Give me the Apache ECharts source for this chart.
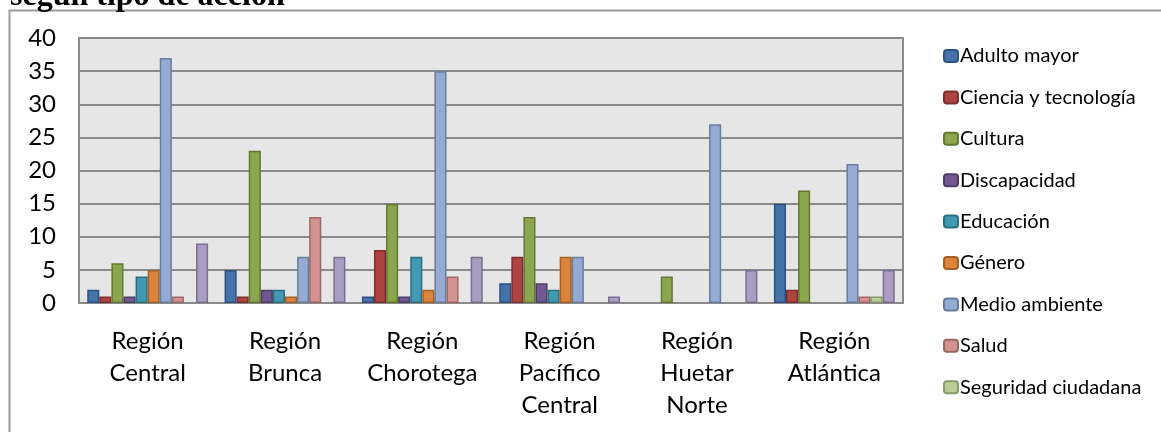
<!DOCTYPE html>
<html>
<head>
<meta charset="utf-8">
<script src="https://cdn.jsdelivr.net/npm/echarts@6/dist/echarts.min.js"></script>
<style>
  html, body { margin: 0; padding: 0; background: #fff; }
  #chart { width: 1161px; height: 432px; }
</style>
</head>
<body>
<div id="chart"></div>
<script>
// regiones (eje X)
const regiones = ['Región\nCentral', 'Región\nBrunca', 'Región\nChorotega', 'Región\nPacífico\nCentral', 'Región\nHuetar\nNorte', 'Región\nAtlántica']

// valores por tipo de acción
const adultoMayor = [2, 5, 1, 3, 0, 15]
const cienciaTecnologia = [1, 1, 8, 7, 0, 2]
const cultura = [6, 23, 15, 13, 4, 17]
const discapacidad = [1, 2, 1, 3, 0, 0]
const educacion = [4, 2, 7, 2, 0, 0]
const genero = [5, 1, 2, 7, 0, 0]
const medioAmbiente = [37, 7, 35, 7, 27, 21]
const salud = [1, 13, 4, 0, 0, 1]
const seguridadCiudadana = [0, 0, 0, 0, 0, 1]
const otros = [9, 7, 7, 1, 5, 5]

const yTicks = ['0', '5', '10', '15', '20', '25', '30', '35', '40']

const serieDefs = [
  { name: 'Adulto mayor', data: adultoMayor, fill: '#4473A9', line: '#2E5181' },
  { name: 'Ciencia y tecnología', data: cienciaTecnologia, fill: '#AC4542', line: '#7E2F2D' },
  { name: 'Cultura', data: cultura, fill: '#8AA64F', line: '#62792F' },
  { name: 'Discapacidad', data: discapacidad, fill: '#71588F', line: '#4E3C68' },
  { name: 'Educación', data: educacion, fill: '#419AB1', line: '#2A7085' },
  { name: 'Género', data: genero, fill: '#DB843D', line: '#A65F22' },
  { name: 'Medio ambiente', data: medioAmbiente, fill: '#95ABD3', line: '#687D9E' },
  { name: 'Salud', data: salud, fill: '#D49392', line: '#9C6866' },
  { name: 'Seguridad ciudadana', data: seguridadCiudadana, fill: '#BACF97', line: '#889B6A' },
  { name: 'Otros', data: otros, fill: '#AA9CC2', line: '#7A6E91' }
]

const FONT = 'Lato, "Open Sans", sans-serif'

const chart = echarts.init(document.getElementById('chart'), null, { renderer: 'canvas' })

const option = {
  backgroundColor: '#ffffff',
  animation: false,
  graphic: [
    // marco exterior
    {
      type: 'rect',
      shape: { x: 9.5, y: 10.5, width: 1200, height: 500 },
      style: { fill: 'none', stroke: '#9a9a9a', lineWidth: 2 },
      z: -10
    },
    // título recortado
    {
      type: 'text',
      left: 10,
      top: -19,
      style: {
        text: 'según tipo de acción',
        font: 'bold 32px "Liberation Serif", "DejaVu Serif", serif',
        fill: '#000'
      }
    }
  ],
  grid: {
    left: 79,
    right: 258,
    top: 38,
    bottom: 129,
    show: true,
    backgroundColor: '#E6E6E6',
    borderColor: '#8a8a8a',
    borderWidth: 2
  },
  legend: {
    orient: 'vertical',
    left: 938,
    top: 41,
    itemWidth: 14,
    itemHeight: 12,
    itemGap: 21.4,
    data: serieDefs.slice(0, 9).map(s => s.name),
    textStyle: {
      fontFamily: FONT,
      fontSize: 20,
      color: '#000',
      padding: [0, 0, 0, -3]
    }
  },
  xAxis: {
    type: 'category',
    data: regiones,
    axisLine: { lineStyle: { color: '#8a8a8a', width: 2 } },
    axisTick: { show: false },
    axisLabel: {
      margin: 22,
      fontFamily: FONT,
      fontSize: 24,
      lineHeight: 32,
      color: '#000',
      interval: 0,
      verticalAlign: 'top'
    }
  },
  yAxis: {
    type: 'value',
    min: 0,
    max: 40,
    interval: 5,
    axisLine: { show: true, lineStyle: { color: '#8a8a8a', width: 2 } },
    axisTick: { show: false },
    splitLine: { lineStyle: { color: '#8a8a8a', width: 2 } },
    axisLabel: {
      margin: 23,
      fontFamily: FONT,
      fontSize: 24,
      color: '#000',
      formatter: (v) => yTicks[v / 5]
    }
  },
  series: serieDefs.map(s => ({
    name: s.name,
    type: 'bar',
    // las barras con valor 0 no se dibujan
    data: s.data.map(v => (v === 0 ? '-' : v)),
    barGap: '0%',
    barCategoryGap: '12%',
    itemStyle: {
      color: s.fill,
      borderColor: s.line,
      borderWidth: 1.5
    }
  }))
}

chart.setOption(option)
</script>
</body>
</html>
